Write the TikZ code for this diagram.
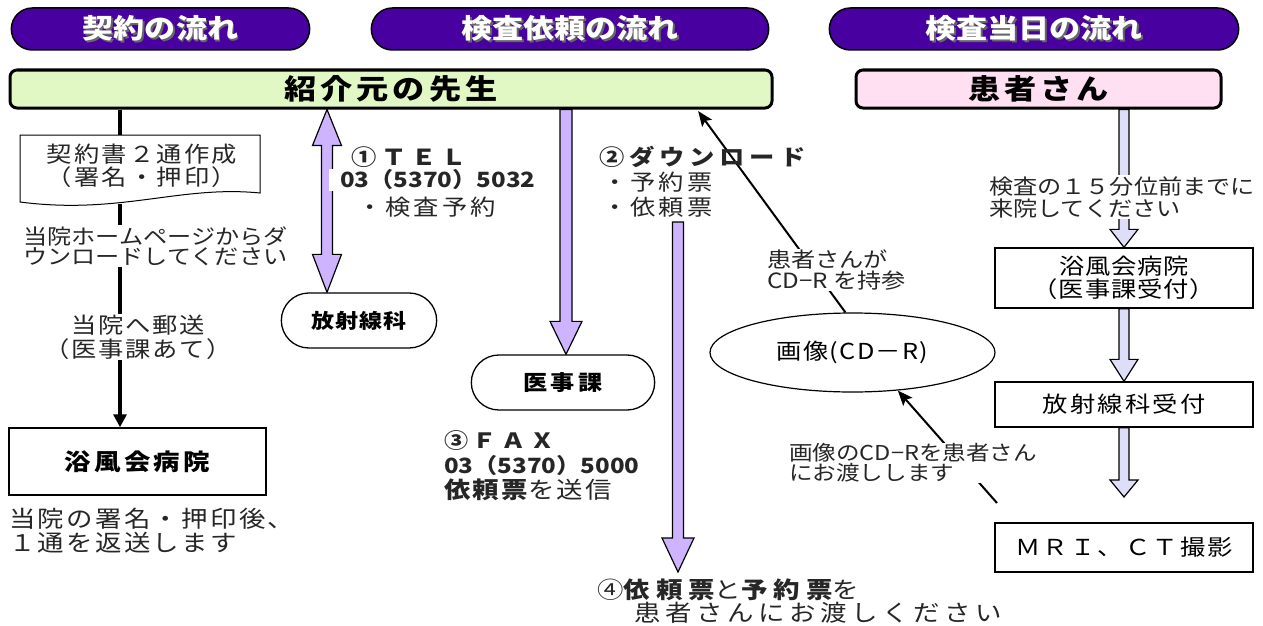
\documentclass[tikz,border=0pt]{standalone}
\usepackage{fontspec}
\setmainfont{Noto Sans CJK JP}[FakeStretch=1.15]
\usetikzlibrary{shapes.misc,shapes.geometric,backgrounds,arrows.meta,calc}
\definecolor{pillc}{RGB}{72,0,160}
\definecolor{greenc}{RGB}{226,248,196}
\definecolor{pinkc}{RGB}{255,224,242}
\definecolor{lavc}{RGB}{206,180,255}
\definecolor{palec}{RGB}{222,222,248}
\newcommand{\fsz}[2]{\fontsize{#1}{#2}\selectfont}
\newcommand{\lsp}[1]{\addfontfeature{LetterSpace=#1}}
\newcommand{\shtext}[1]{\makebox[0pt][l]{\hspace{1.8pt}\raisebox{-1.8pt}{\color{black!60}#1}}{\color{white}#1}}
\newcommand{\fatdown}[6]{%
  \filldraw[fill=#6,draw=black,line width=1.2pt] let \p1=#1, \p2=#2 in
    (\x2-#3pt,\y1) -- (\x2-#3pt,\y2+#5pt) -- (\x2-#4pt,\y2+#5pt) -- (\x2,\y2)
    -- (\x2+#4pt,\y2+#5pt) -- (\x2+#3pt,\y2+#5pt) -- (\x2+#3pt,\y1) -- cycle;}
\newcommand{\fatdouble}[6]{%
  \filldraw[fill=lavc,draw=black,line width=1.2pt] let \p1=#1, \p2=#2 in
    (\x1,\y1) -- (\x1+#4pt,\y1-#5pt) -- (\x1+#3pt,\y1-#5pt) -- (\x1+#3pt,\y2+#6pt)
    -- (\x1+#4pt,\y2+#6pt) -- (\x1,\y2) -- (\x1-#4pt,\y2+#6pt) -- (\x1-#3pt,\y2+#6pt)
    -- (\x1-#3pt,\y1-#5pt) -- (\x1-#4pt,\y1-#5pt) -- cycle;}
\begin{document}
\begin{tikzpicture}[x=1pt,y=-1pt,
  pill/.style={rounded rectangle, draw=black, line width=1.5pt, fill=pillc, minimum height=42pt, font=\fsz{27}{30}\bfseries},
  bar/.style={draw=black, line width=3pt, rounded corners=7pt, minimum height=38pt, font=\fsz{28}{30}\bfseries\lsp{14}},
  stad/.style={rounded rectangle, draw=black, line width=1.3pt, fill=white},
  box/.style={draw=black, line width=1.3pt, fill=white},
  lbl/.style={inner sep=1pt, text=black!85},
  wl/.style={lbl, fill=white},
  conn/.style={line width=3.5pt, black},
  thin conn/.style={line width=2pt, black, -{Stealth[length=15pt,width=12pt,inset=3pt]}}]
\useasboundingbox (0,0) rectangle (1263,626);
% headers
\node[pill, minimum width=305pt] (h1) at (160.5,29) {\shtext{契約の流れ}};
\node[pill, minimum width=404pt] (h2) at (570,29) {\shtext{検査依頼の流れ}};
\node[pill, minimum width=416pt] (h3) at (1034,29) {\shtext{検査当日の流れ}};
\node[bar, fill=greenc, minimum width=762pt] (sen) at (391,89) {紹介元の先生};
\node[bar, fill=pinkc, minimum width=365pt] (kan) at (1038.5,89) {患者さん};
% left column
\draw[line width=1pt, fill=white] (20,135) -- (260,135) -- (260,193) .. controls (180,185) and (120,215) .. (20,202) -- cycle;
\node[lbl, align=center, font=\fsz{22}{23}\lsp{10}] (doc) at (142,166) {契約書２通作成\\（署名・押印）};
\coordinate (doct) at (120,135);
\coordinate (docb) at (120,204);
\node[wl, align=left, anchor=west, font=\fsz{21}{20}] (hp) at (22,246) {当院ホームページからダ\\ウンロードしてください};
\node[wl, align=center, font=\fsz{22}{24}\lsp{8}] (post) at (138,337) {当院へ郵送\\（医事課あて）};
\node[box, line width=1.5pt, minimum width=257pt, minimum height=67pt, font=\fsz{23}{24}\bfseries\lsp{14}] (hosp) at (137.5,461.5) {浴風会病院};
\node[lbl, align=left, anchor=west, font=\fsz{23}{24}\lsp{10}] (ret) at (8,531) {当院の署名・押印後、\\１通を返送します};
% middle column
\node[stad, minimum width=162pt, minimum height=55pt, font=\fsz{20}{22}\bfseries\lsp{4}] (rad) at (359,320.5) {放射線科};
\node[stad, minimum width=190pt, minimum height=55pt, font=\fsz{21}{22}\bfseries\lsp{16}] (ika) at (563,382.5) {医事課};
\node[lbl, anchor=west, font=\fsz{22}{24}\bfseries\lsp{22}] (tel1) at (350,157) {①ＴＥＬ};
\node[lbl, fill=white, anchor=west, inner xsep=0pt, font=\fsz{21}{24}\bfseries] (tel2) at (329,180) {\hspace{11pt}03（5370）5032};
\node[lbl, anchor=west, font=\fsz{22}{24}\lsp{14}] (tel3) at (356,207) {・検査予約};
\node[lbl, anchor=west, font=\fsz{22}{24}\bfseries\lsp{22}] (dl1) at (598,157) {②ダウンロード};
\node[lbl, anchor=west, align=left, font=\fsz{22}{25}\lsp{14}] (dl2) at (601,194.5) {・予約票\\・依頼票};
\node[lbl, anchor=west, align=left, font=\fsz{21}{25}] (fax) at (443,466) {{\bfseries\lsp{22}③ＦＡＸ}\\{\bfseries 03（5370）5000}\\{\fsz{23}{25}\bfseries\lsp{10}依頼票}{\fsz{23}{25}\lsp{10}を送信}};
\node[lbl, anchor=west, align=left, font=\fsz{23}{23}\lsp{20}] (hand) at (596,601) {④{\bfseries\lsp{26}依頼票}と{\bfseries\lsp{26}予約票}を\\\hspace*{37pt}患者さんにお渡しください};
\node[draw, ellipse, line width=1.2pt, fill=white, minimum width=285pt, minimum height=79pt, font=\fsz{22}{24}\lsp{6}] (img) at (852.5,352.5) {画像(CD－R)};
\node[wl, anchor=west, align=left, font=\fsz{21}{21}] (cd1) at (766,270) {患者さんが\\CD−R を持参};
\node[wl, anchor=west, align=left, font=\fsz{20.5}{20}] (cd2) at (788,463) {画像のCD−Rを患者さん\\にお渡しします};
% right column
\node[wl, anchor=west, align=left, font=\fsz{21}{22}] (come) at (988,197) {検査の１５分位前までに\\来院してください};
\node[box, minimum width=258pt, minimum height=60pt, align=center, font=\fsz{22}{23}\lsp{4}] (rb1) at (1124,278) {浴風会病院\\（医事課受付）};
\node[box, minimum width=258pt, minimum height=45pt, font=\fsz{22}{23}\lsp{10}] (rb2) at (1124,404.5) {放射線科受付};
\node[box, minimum width=258pt, minimum height=49pt, font=\fsz{22}{23}\lsp{10}] (mri) at (1124,547.5) {ＭＲＩ、ＣＴ撮影};
% coordinates for connectors
\coordinate (ax1) at (327,0);
\coordinate (ax2) at (566,0);
\coordinate (f4a) at (678,222);
\coordinate (f4b) at (678,572);
\coordinate (ax4) at (1124,0);
\coordinate (f7b) at (1124,497);
\coordinate (cdtip) at (697,0);
\coordinate (mrit) at (997,503);
\begin{scope}[on background layer]
  \draw[conn] (doct |- sen.south) -- (doct);
  \draw[conn, -{Triangle[length=13pt,width=13pt]}] (docb) -- (docb |- hosp.north);
  \fatdouble{(ax1 |- sen.south)}{(ax1 |- rad.north)}{5.5}{14.5}{36}{38}
  \fatdown{(ax2 |- sen.south)}{(ax2 |- ika.north)}{6}{16}{33}{lavc}
  \fatdown{(f4a)}{(f4b)}{5.5}{16}{34}{lavc}
  \fatdown{(ax4 |- kan.south)}{(ax4 |- rb1.north)}{5}{14}{18}{palec}
  \fatdown{(ax4 |- rb1.south)}{(ax4 |- rb2.north)}{5}{14}{22}{palec}
  \fatdown{(ax4 |- rb2.south)}{(f7b)}{5}{14}{17}{palec}
  \draw[thin conn, shorten >=2pt] (img.100) -- (cdtip |- sen.south);
  \draw[thin conn] (mrit) -- (img.-40);
\end{scope}
\end{tikzpicture}
\end{document}
